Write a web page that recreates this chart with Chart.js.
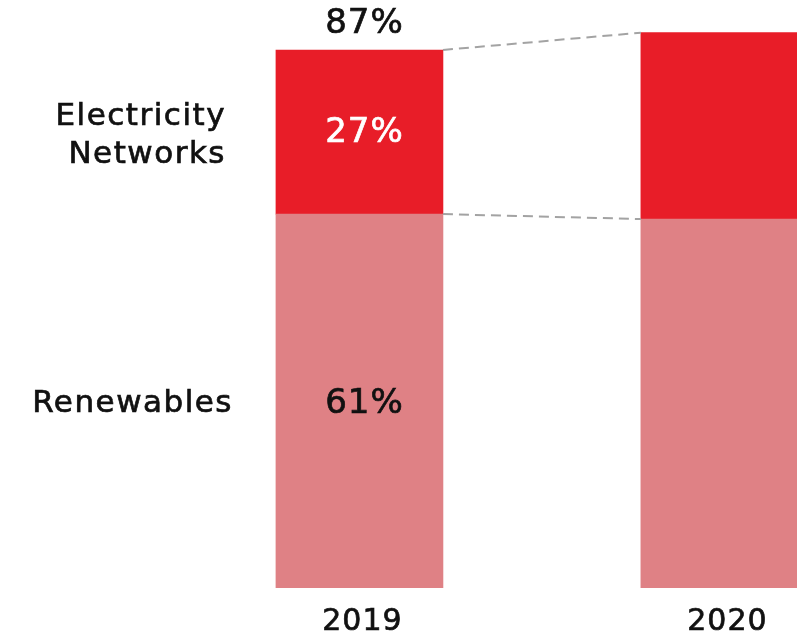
<!DOCTYPE html>
<html>
<head>
<meta charset="utf-8">
<script src="https://cdn.jsdelivr.net/npm/chart.js@4/dist/chart.umd.min.js"></script>
<style>
  html, body { margin: 0; padding: 0; background: #fff; }
  #wrap { width: 797px; height: 635px; position: relative; }
</style>
</head>
<body>
<div id="wrap"><canvas id="chart"></canvas></div>
<script>
const years = [2019, 2020];
const renewables = [60.6, 59.8];
const networks = [26.6, 30.2];
const seriesNames = ["Renewables", "Electricity Networks"];
const sideLabels = [["Renewables"], ["Electricity", "Networks"]];

const FONT = "'DejaVu Sans', sans-serif";

// fill plus a hairline stroke so the text reads a bit heavier
function label(ctx, text, x, y) {
  ctx.fillText(text, x, y);
  ctx.strokeText(text, x, y);
}

// labels, dashed connectors, side names and years
const overlay = {
  id: "overlay",
  afterDatasetsDraw(chart) {
    const ctx = chart.ctx;
    const x = chart.scales.x, y = chart.scales.y;
    const b0 = chart.getDatasetMeta(0).data;
    const b1 = chart.getDatasetMeta(1).data;
    const half = b0[0].width / 2;

    // dashed connectors between the bars
    ctx.save();
    ctx.strokeStyle = "#a3a3a3";
    ctx.lineWidth = 2;
    ctx.setLineDash([10, 6]);
    ctx.beginPath();
    ctx.moveTo(b1[0].x + half, b1[0].y);
    ctx.lineTo(b1[1].x - half, b1[1].y);
    ctx.moveTo(b0[0].x + half, b0[0].y);
    ctx.lineTo(b0[1].x - half, b0[1].y);
    ctx.stroke();
    ctx.restore();

    ctx.save();
    ctx.textBaseline = "middle";
    ctx.lineWidth = 0.7;
    const cx = b0[0].x + 5;
    const bottom = y.getPixelForValue(0);
    const midR = (bottom + b0[0].y) / 2;
    const midN = (b0[0].y + b1[0].y) / 2;

    ctx.letterSpacing = "1px";
    ctx.font = "34px " + FONT;
    ctx.textAlign = "center";
    ctx.fillStyle = ctx.strokeStyle = "#111";
    label(ctx, Math.round(renewables[0]) + "%", cx, midR + 3);
    label(ctx, Math.round(renewables[0] + networks[0]) + "%", cx, b1[0].y - 26);
    ctx.fillStyle = ctx.strokeStyle = "#fff";
    label(ctx, Math.round(networks[0]) + "%", cx, midN + 1);

    // year labels under the bars
    ctx.font = "30px " + FONT;
    ctx.fillStyle = ctx.strokeStyle = "#111";
    years.forEach(v => label(ctx, String(v), x.getPixelForValue(v) + 3, bottom + 34));

    ctx.letterSpacing = "1.5px";
    ctx.font = "31px " + FONT;
    ctx.textAlign = "right";
    label(ctx, sideLabels[0][0], 233, midR + 3);
    label(ctx, sideLabels[1][0], 226, midN - 15);
    label(ctx, sideLabels[1][1], 226, midN + 23);
    ctx.restore();
  }
};

new Chart(document.getElementById("chart"), {
  type: "bar",
  data: {
    datasets: [
      {
        label: seriesNames[0],
        data: years.map((yr, i) => ({ x: yr, y: renewables[i] })),
        backgroundColor: "#df8185",
        barThickness: 167,
        borderWidth: 0
      },
      {
        label: seriesNames[1],
        data: years.map((yr, i) => ({ x: yr, y: networks[i] })),
        backgroundColor: "#e81d28",
        barThickness: 167,
        borderWidth: 0
      }
    ]
  },
  options: {
    responsive: true,
    maintainAspectRatio: false,
    animation: false,
    layout: { padding: { top: 0, left: 0, right: 0, bottom: 47 } },
    plugins: { legend: { display: false }, tooltip: { enabled: false } },
    scales: {
      x: {
        type: "linear",
        stacked: true,
        offset: false,
        display: false,
        min: 2018.015,
        max: 2020.199
      },
      y: {
        stacked: true,
        display: false,
        min: 0,
        max: 95.3
      }
    }
  },
  plugins: [overlay]
});
</script>
</body>
</html>
